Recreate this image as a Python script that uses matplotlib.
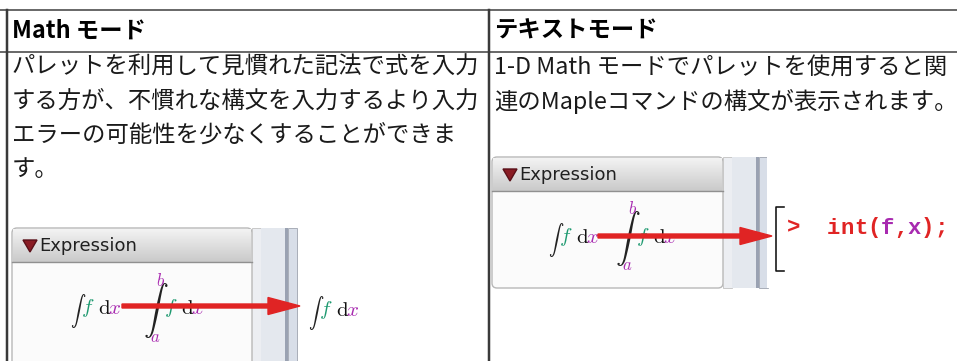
import matplotlib
matplotlib.use('Agg')
import matplotlib.pyplot as plt
from matplotlib.patches import Rectangle, FancyBboxPatch, FancyArrow, Polygon

# table content
headers = ['Math モード', 'テキストモード']
left_lines = [
    'パレットを利用して見慣れた記法で式を入力',
    'する方が、不慣れな構文を入力するより入力',
    'エラーの可能性を少なくすることができま',
    'す。',
]
right_lines = [
    '1-D Math モードでパレットを使用すると関',
    '連のMapleコマンドの構文が表示されます。',
]
panel_title = 'Expression'
code_text = '>  int(f,x);'
code_vars = 'fx'

RED = '#e02424'
GREEN = '#1e9a70'
PURPLE = '#a82ab0'
LINE = '#3a3a3a'

plt.rcParams['font.family'] = ['Noto Sans CJK JP', 'DejaVu Sans']
plt.rcParams['mathtext.fontset'] = 'cm'

W, H = 957, 361
fig = plt.figure(figsize=(W / 100, H / 100), dpi=100)
ax = fig.add_axes([0, 0, 1, 1])
ax.set_xlim(0, W)
ax.set_ylim(H, 0)
ax.axis('off')

PX = 0.72  # points per pixel


def integral(x, y, limits=False):
    """draw 'int f dx' with Maple colours, x/y = left / vertical centre"""
    if limits:
        ax.text(x, y + 2, r'$\int$', fontsize=18, va='center', ha='left', color='#222')
        ax.text(x + 13, y - 27, r'$b$', fontsize=12, color=PURPLE, va='center')
        ax.text(x + 7, y + 29, r'$a$', fontsize=12, color=PURPLE, va='center')
        x += 21
    else:
        ax.text(x, y + 3, r'$\int$', fontsize=11, va='center', ha='left', color='#222')
        x += 11
    ax.text(x, y, r'$f$', fontsize=15, color=GREEN, va='center')
    ax.text(x + 17, y, r'$\mathrm{d}$', fontsize=15, color='#111', va='center')
    ax.text(x + 27, y, r'$x$', fontsize=15, color=PURPLE, va='center')


def palette(x0, y0, x1, y1):
    # panel body + header
    ax.add_patch(FancyBboxPatch((x0, y0), x1 - x0, y1 - y0,
                                boxstyle='round,pad=0,rounding_size=5',
                                fc='#fbfbfb', ec='#b8b8b8', lw=1.0))
    hb = 34
    for i in range(hb):
        g = 0.95 - 0.17 * i / hb
        ax.add_patch(Rectangle((x0 + 1, y0 + 1 + i), x1 - x0 - 2, 1,
                               fc=(g, g, g), ec='none'))
    ax.plot([x0, x1], [y0 + hb, y0 + hb], color='#909090', lw=1)
    ax.add_patch(Polygon([(x0 + 11, y0 + 12), (x0 + 25, y0 + 12), (x0 + 18, y0 + 24)],
                         closed=True, fc='#8a1c24', ec='#5a1018'))
    ax.text(x0 + 27, y0 + 18, panel_title, fontsize=13, family='DejaVu Sans',
            va='center', ha='left', color='#202020')
    # scroll strip
    ax.add_patch(Rectangle((x1, y0), 9, y1 - y0, fc='#eceef2', ec='#c8c8c8', lw=0.7))
    ax.add_patch(Rectangle((x1 + 9, y0), 24, y1 - y0, fc='#e4e8ee', ec='none'))
    ax.add_patch(Rectangle((x1 + 33, y0), 3, y1 - y0, fc='#9aa2b2', ec='none'))
    ax.add_patch(Rectangle((x1 + 36, y0), 9, y1 - y0, fc='#d8dee8', ec='#a8aeb8', lw=0.7))


def arrow(x0, x1, y):
    ax.add_patch(FancyArrow(x0, y, x1 - x0, 0, width=4, head_width=17, head_length=32,
                            length_includes_head=True, fc=RED, ec=RED, zorder=5))


# table grid
ax.plot([0, W], [10, 10], color=LINE, lw=1.5 * PX)
ax.plot([0, W], [52, 52], color=LINE, lw=1.5 * PX)
ax.plot([7, 7], [10, H], color=LINE, lw=2.5 * PX)
ax.plot([489, 489], [10, H], color=LINE, lw=2.5 * PX)

ax.text(12, 31, headers[0], fontsize=16.8, fontweight='bold', va='center', ha='left')
ax.text(494, 31, headers[1], fontsize=16.8, fontweight='bold', va='center', ha='left')

for i, line in enumerate(left_lines):
    ax.text(12, 67 + 34 * i, line, fontsize=16.8, va='center', ha='left', color='#1a1a1a')
for i, line in enumerate(right_lines):
    ax.text(494, 67 + 34 * i, line, fontsize=16.8, va='center', ha='left', color='#1a1a1a')

# left screenshot
palette(12, 228, 252, H + 10)
integral(70, 308)
integral(143, 308, limits=True)
arrow(122, 300, 306)
integral(308, 310)

# right screenshot
palette(492, 157, 723, 288)
ax.add_patch(Rectangle((767, 157), 190, 131, fc='white', ec='none'))
integral(548, 237)
integral(615, 237, limits=True)
arrow(598, 772, 236)
ax.plot([784, 776, 776, 784], [207, 207, 271, 271], color='#111', lw=1.6 * PX)
cw = 13.4
for k, ch in enumerate(code_text):
    ax.text(787 + cw * k, 228, ch, fontsize=16, family='Liberation Mono', fontweight='bold',
            color=PURPLE if ch in code_vars else RED, va='center', ha='left')

fig.savefig('out.png', dpi=100)
